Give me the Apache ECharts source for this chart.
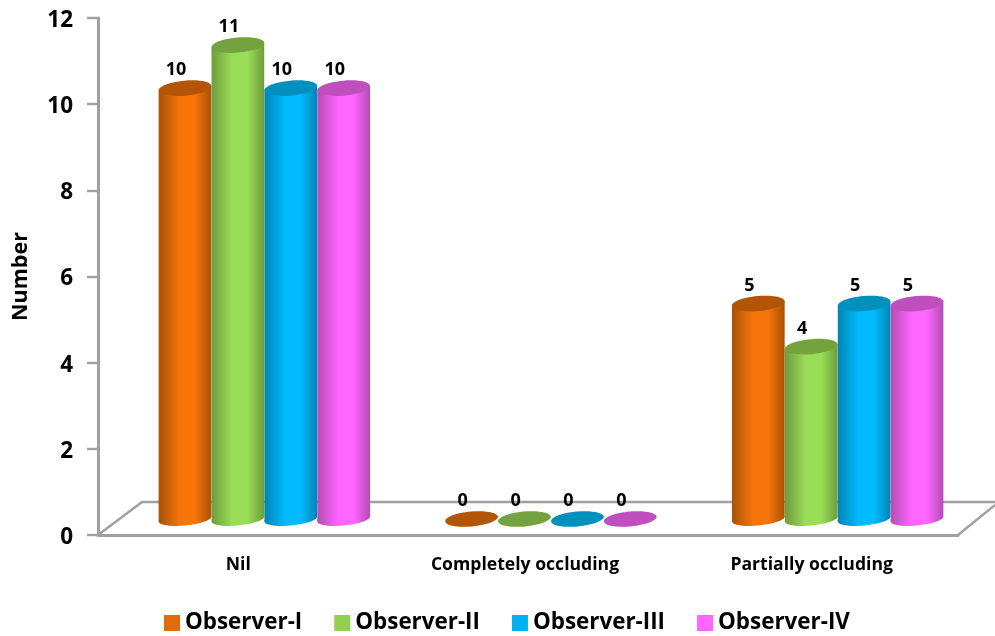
<!DOCTYPE html>
<html>
<head>
<meta charset="utf-8">
<style>
  html, body { margin: 0; padding: 0; background: #fff; }
  #chart { width: 995px; height: 636px; }
</style>
<script src="https://cdn.jsdelivr.net/npm/echarts@6/dist/echarts.min.js"></script>
</head>
<body>
<div id="chart"></div>
<script>
const categories = ['Nil', 'Completely occluding', 'Partially occluding'];
const observer1 = [10, 0, 5];
const observer2 = [11, 0, 4];
const observer3 = [10, 0, 5];
const observer4 = [10, 0, 5];
const yTicks = { min: 0, max: 12, interval: 2 };

const seriesNames = ['Observer-I', 'Observer-II', 'Observer-III', 'Observer-IV'];
const seriesValues = [observer1, observer2, observer3, observer4];
// legend colour, cylinder edge, cylinder middle, top cap
const palette = [
  ['#e36c0a', '#a85206', '#f6750a', '#b35506'],
  ['#92d050', '#6f9c3c', '#9ade58', '#74a23f'],
  ['#00b0f0', '#0084b4', '#00bbff', '#0090bd'],
  ['#ff66ff', '#b44cb4', '#ff66ff', '#bf4fbf']
];

const FONT = '"Open Sans", sans-serif';
const GREY = '#a0a0a0';

// the fake 3d depth of the floor: bars stand this far behind the axis line
const DEPTH_X = 23;
const DEPTH_Y = 16;
const BAR_W = 52.9;
const CAP_RY = 7.5;
const BASE_RY = 6.5;
const TILT = 0.09;

const chart = echarts.init(document.getElementById('chart'), null, { renderer: 'canvas' });

function renderFloor(params, api) {
  const cs = params.coordSys;
  const y0 = api.coord([0, 0])[1];
  const left = cs.x;
  const right = cs.x + cs.width;
  const style = { stroke: GREY, lineWidth: 2.4, fill: null };
  return {
    type: 'group',
    children: [
      { type: 'polyline', shape: { points: [[left, y0], [left + 44, y0 - 33], [right + 37, y0 - 33]] }, style: style },
      { type: 'line', shape: { x1: right, y1: y0, x2: right + 37, y2: y0 - 30 }, style: style }
    ]
  };
}

function cylinder(seriesIndex) {
  const colors = palette[seriesIndex];
  const grad = new echarts.graphic.LinearGradient(0, 0, 1, 0, [
    { offset: 0, color: colors[1] },
    { offset: 0.4, color: colors[2] },
    { offset: 0.68, color: colors[2] },
    { offset: 1, color: colors[1] }
  ]);
  return function (params, api) {
    const cat = api.value(0);
    const val = api.value(1);
    const top = api.coord([cat, val]);
    const base = api.coord([cat, 0]);
    const cx = top[0] + DEPTH_X + (seriesIndex - 1.5) * BAR_W;
    const yTop = top[1] - DEPTH_Y;
    const yBase = base[1] - DEPTH_Y;
    const r = BAR_W / 2;
    const dx = r * Math.cos(TILT);
    const dy = r * Math.sin(TILT);
    const children = [];
    if (val > 0) {
      children.push({
        type: 'ellipse',
        x: cx, y: yBase, rotation: TILT,
        shape: { cx: 0, cy: 0, rx: r, ry: BASE_RY },
        style: { fill: grad }
      });
      children.push({
        type: 'polygon',
        shape: { points: [[cx - dx, yTop + dy], [cx + dx, yTop - dy], [cx + dx, yBase - dy], [cx - dx, yBase + dy]] },
        style: { fill: grad }
      });
    }
    children.push({
      type: 'ellipse',
      x: cx, y: yTop, rotation: TILT,
      shape: { cx: 0, cy: 0, rx: r, ry: CAP_RY },
      style: { fill: colors[3] }
    });
    children.push({
      type: 'text',
      x: cx - 9, y: yTop - 18,
      style: {
        text: String(val),
        font: 'bold 18px ' + FONT,
        fill: '#000',
        align: 'center',
        verticalAlign: 'middle'
      }
    });
    return { type: 'group', children: children };
  };
}

const series = [{
  type: 'custom',
  name: 'floor',
  silent: true,
  clip: false,
  z: 1,
  renderItem: renderFloor,
  data: [[0, 0]]
}];

seriesNames.forEach(function (name, i) {
  series.push({
    type: 'custom',
    name: name,
    clip: false,
    z: 2 + i,
    itemStyle: { color: palette[i][0] },
    encode: { x: 0, y: 1 },
    renderItem: cylinder(i),
    data: seriesValues[i].map(function (v, c) { return [c, v]; })
  });
});

chart.setOption({
  animation: false,
  backgroundColor: '#fff',
  grid: { left: 98, right: 37, top: 18, bottom: 101, containLabel: false, outerBoundsMode: 'none' },
  legend: {
    data: seriesNames,
    left: 159,
    top: 607,
    icon: 'rect',
    itemWidth: 16,
    itemHeight: 16,
    itemGap: 32,
    textStyle: { fontFamily: FONT, fontWeight: 'bold', fontSize: 22.4, color: '#000', padding: [2, 0, 0, 0] }
  },
  xAxis: {
    type: 'category',
    data: categories,
    boundaryGap: true,
    axisLine: { lineStyle: { color: GREY, width: 3 } },
    axisTick: { show: false },
    splitLine: { show: false },
    axisLabel: {
      margin: 21,
      fontFamily: FONT,
      fontWeight: 'bold',
      fontSize: 17.6,
      color: '#000',
      padding: [0, 6, 0, 0]
    }
  },
  yAxis: {
    type: 'value',
    min: yTicks.min,
    max: yTicks.max,
    interval: yTicks.interval,
    name: 'Number',
    nameLocation: 'middle',
    nameGap: 66,
    nameTextStyle: { fontFamily: FONT, fontWeight: 'bold', fontSize: 21.5, color: '#000' },
    axisLine: { show: true, lineStyle: { color: GREY, width: 3 } },
    axisTick: { show: true, length: 11, lineStyle: { color: GREY, width: 2.4 } },
    splitLine: { show: false },
    axisLabel: {
      margin: 25,
      formatter: '{v|{value}}',
      rich: {
        v: {
          fontFamily: FONT,
          fontWeight: 'bold',
          fontSize: 22.5,
          color: '#000',
          padding: [5, 0, 0, 0]
        }
      }
    }
  },
  series: series
});
</script>
</body>
</html>
